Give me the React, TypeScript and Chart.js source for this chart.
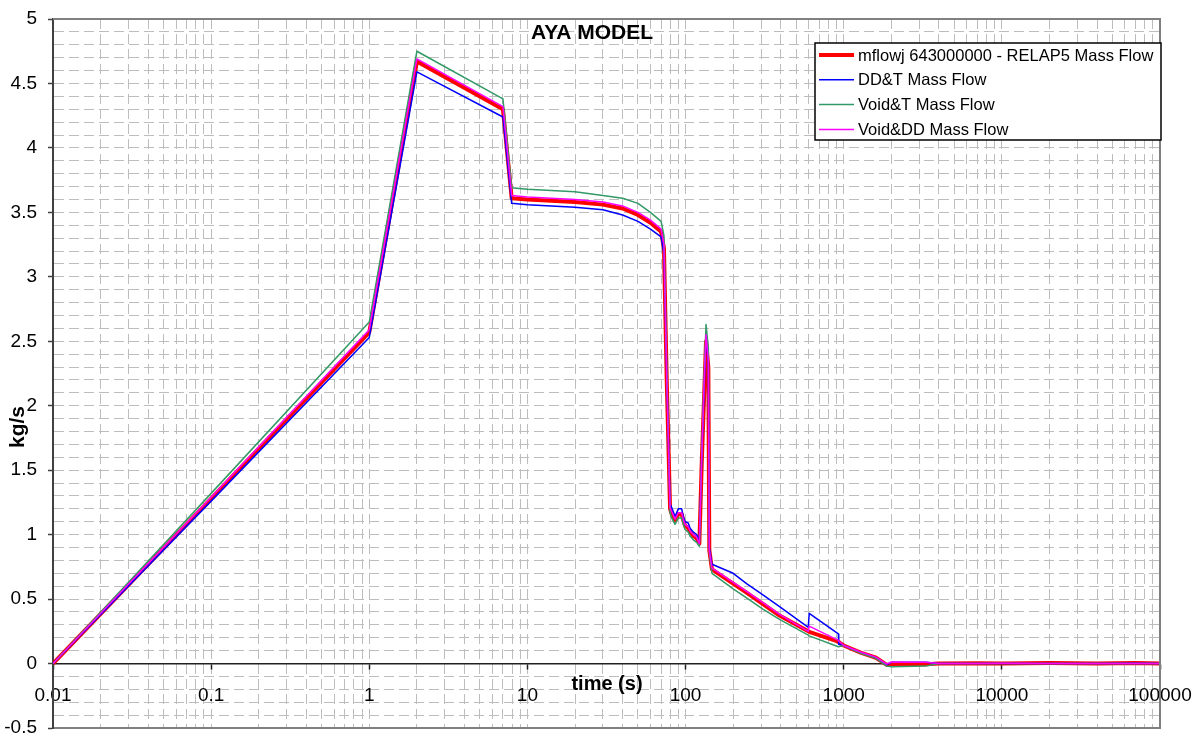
import React, { useEffect, useRef } from 'react';
import { Chart, registerables } from 'chart.js';

Chart.register(...registerables);

const FONT = '"Liberation Sans", Arial, Helvetica, sans-serif';

// ---- data ----
const times = [
  0.01, 0.1, 1, 2, 7, 7.95, 10, 20, 30, 40, 50, 60, 70, 73, 76, 79.8, 81.7, 85.8, 90, 94.5,
  96.7, 99.2, 104, 106.7, 111.9, 117.6, 122.2, 126.5, 130.8, 134.7, 139.3, 141.3, 146.9, 200, 243, 310,
  395, 597, 605, 925, 930, 1000, 1280, 1600, 1870, 2000, 3300, 4000, 7000, 10000, 20000, 40000,
  70000, 100000,
];
const relap5Flow = [
  0, 1.28, 2.57, 4.67, 4.3, 3.61, 3.6, 3.58, 3.56, 3.53, 3.48, 3.42, 3.35, 3.22, 2.2, 1.2, 1.16, 1.11, 1.16, 1.16,
  1.11, 1.07, 1.05, 1.02, 0.99, 0.97, 0.93, 1.55, 2.05, 2.5, 2.3, 0.88, 0.73, 0.62, 0.55, 0.46,
  0.37, 0.25, 0.245, 0.17, 0.165, 0.14, 0.085, 0.045, -0.01, -0.01, -0.005, 0, 0.003, 0, 0.004, 0,
  0.005, 0,
];
const ddtFlow = [
  0, 1.26, 2.53, 4.59, 4.24, 3.57, 3.56, 3.54, 3.52, 3.48, 3.43, 3.37, 3.31, 3.18, 2.25, 1.24, 1.21, 1.14, 1.2, 1.2,
  1.14, 1.1, 1.09, 1.05, 1.02, 1.0, 0.95, 1.6, 2.1, 2.52, 2.35, 0.9, 0.77, 0.7, 0.62, 0.53,
  0.44, 0.28, 0.39, 0.23, 0.15, 0.14, 0.085, 0.045, -0.01, 0.01, 0.01, 0, 0, 0, 0, 0,
  0.003, 0,
];
const voidTFlow = [
  0, 1.32, 2.65, 4.75, 4.38, 3.69, 3.68, 3.66, 3.63, 3.61, 3.57, 3.5, 3.43, 3.32, 2.3, 1.17, 1.13, 1.08, 1.13, 1.13,
  1.08, 1.04, 1.02, 0.99, 0.96, 0.94, 0.91, 1.62, 2.2, 2.63, 2.45, 0.86, 0.7, 0.58, 0.51, 0.42,
  0.34, 0.22, 0.215, 0.13, 0.13, 0.14, 0.08, 0.04, -0.02, -0.025, -0.02, 0, 0, 0, 0, 0,
  0, 0,
];
const voidDDFlow = [
  0, 1.29, 2.59, 4.69, 4.32, 3.63, 3.62, 3.6, 3.58, 3.55, 3.5, 3.44, 3.37, 3.25, 2.22, 1.21, 1.18, 1.12, 1.17, 1.17,
  1.12, 1.08, 1.06, 1.03, 1.0, 0.98, 0.93, 1.6, 2.15, 2.55, 2.35, 0.88, 0.74, 0.63, 0.56, 0.47,
  0.38, 0.25, 0.29, 0.18, 0.175, 0.14, 0.09, 0.05, -0.005, 0.012, 0.01, 0, 0, 0.002, 0, 0,
  0, 0,
];

const seriesLabels = [
  'mflowj 643000000 - RELAP5 Mass Flow',
  'DD&T Mass Flow',
  'Void&T Mass Flow',
  'Void&DD Mass Flow',
];
const seriesValues = [relap5Flow, ddtFlow, voidTFlow, voidDDFlow];

const xDecades = [0.01, 0.1, 1, 10, 100, 1000, 10000, 100000];
const xTickLabels = ['0.01', '0.1', '1', '10', '100', '1000', '10000', '100000'];
const xMinorMultipliers = [2, 3, 4, 5, 6, 7, 8, 9];

const yMin = -0.5;
const yMax = 5;
const yGridStep = 0.1;
const yLabelStep = 0.5;

const chartTitle = 'AYA MODEL';
const xTitle = 'time (s)';
const yTitle = 'kg/s';

// ---- styles ----
const seriesColors = ['#FF0000', '#0000FF', '#339966', '#FF00FF'];
const seriesWidths = [4, 1.5, 1.5, 1.5];
const seriesOrder = [3, 2, 1, 0];
const GRID = '#bdbdbd';

const xGridValues: number[] = [];
xDecades.forEach((d, i) => {
  xGridValues.push(d);
  if (i < xDecades.length - 1) xMinorMultipliers.forEach((m) => xGridValues.push(d * m));
});

const isXMajor = (v: number) => xDecades.some((d) => Math.abs(v - d) / d < 1e-6);
const isYMajor = (v: number) => Math.abs(v / yLabelStep - Math.round(v / yLabelStep)) < 1e-6;

const overlayPlugin = {
  id: 'overlay',
  afterDraw(chart: any) {
    const { ctx, chartArea: a, scales } = chart;
    ctx.save();
    // plot border (top, right, bottom)
    ctx.strokeStyle = '#808080';
    ctx.lineWidth = 2;
    ctx.beginPath();
    ctx.moveTo(a.left, a.top);
    ctx.lineTo(a.right, a.top);
    ctx.lineTo(a.right, a.bottom);
    ctx.lineTo(a.left + 1, a.bottom);
    ctx.stroke();

    // chart title
    ctx.fillStyle = '#000';
    ctx.textAlign = 'center';
    ctx.textBaseline = 'middle';
    ctx.font = `bold 21px ${FONT}`;
    ctx.fillText(chartTitle, 592, 33);

    // x title
    const y0 = scales.y.getPixelForValue(0);
    ctx.font = `bold 20px ${FONT}`;
    ctx.fillText(xTitle, 607, y0 + 21);

    // y title
    ctx.save();
    ctx.translate(18, 427);
    ctx.rotate(-Math.PI / 2);
    ctx.font = `bold 21px ${FONT}`;
    ctx.fillText(yTitle, 0, 0);
    ctx.restore();

    // legend
    const lx = 815;
    const ly = 43;
    const lw = 346;
    const lh = 97;
    ctx.fillStyle = '#fff';
    ctx.fillRect(lx, ly, lw, lh);
    ctx.strokeStyle = '#000';
    ctx.lineWidth = 1.5;
    ctx.strokeRect(lx, ly, lw, lh);
    ctx.font = `16.5px ${FONT}`;
    ctx.textAlign = 'left';
    chart.data.datasets.forEach((ds: any, i: number) => {
      const ry = 55 + i * 24.8;
      ctx.strokeStyle = ds.borderColor;
      ctx.lineWidth = ds.borderWidth;
      ctx.beginPath();
      ctx.moveTo(lx + 4, ry);
      ctx.lineTo(lx + 39, ry);
      ctx.stroke();
      ctx.fillStyle = '#000';
      ctx.fillText(ds.label, lx + 43, ry + 1);
    });
    ctx.restore();
  },
};

export default function App() {
  const ref = useRef<HTMLCanvasElement>(null);
  useEffect(() => {
    document.body.style.margin = '0';
    const datasets = seriesLabels.map((label, s) => ({
      label,
      data: times.map((t, i) => ({ x: t, y: seriesValues[s][i] })),
      borderColor: seriesColors[s],
      backgroundColor: seriesColors[s],
      borderWidth: seriesWidths[s],
      pointRadius: 0,
      tension: 0,
      fill: false,
      order: seriesOrder[s],
      borderJoinStyle: 'round' as const,
    }));
    const chart = new Chart(ref.current!, {
      type: 'line',
      data: { datasets },
      plugins: [overlayPlugin],
      options: {
        animation: false,
        responsive: false,
        events: [],
        layout: { padding: { left: 0, right: 38, top: 19, bottom: 8 } },
        plugins: { legend: { display: false }, tooltip: { enabled: false }, title: { display: false } },
        scales: {
          x: {
            type: 'logarithmic',
            position: { y: 0 } as any,
            min: 0.01,
            max: 100000,
            afterBuildTicks: (scale: any) => {
              scale.ticks = xGridValues.map((v) => ({ value: v, major: isXMajor(v) }));
            },
            afterFit: (scale: any) => {
              scale.paddingLeft = 0;
              scale.paddingRight = 0;
              scale.paddingTop = 0;
              scale.paddingBottom = 0;
            },
            ticks: {
              autoSkip: false,
              maxRotation: 0,
              minRotation: 0,
              padding: 16,
              color: '#000',
              font: { family: FONT, size: 19 },
              callback: (value: any) => {
                const idx = xDecades.findIndex((d) => Math.abs(Number(value) - d) / d < 1e-6);
                return idx >= 0 ? xTickLabels[idx] : '';
              },
            },
            grid: {
              color: GRID,
              lineWidth: 1,
              tickLength: 5,
              tickWidth: 1.5,
              tickColor: (ctx: any) => (ctx.tick && isXMajor(ctx.tick.value) ? '#202020' : 'rgba(0,0,0,0)'),
            },
            border: { display: true, color: '#202020', width: 1.5, dash: [10, 5] },
          },
          y: {
            type: 'linear',
            position: 'left',
            min: yMin,
            max: yMax,
            afterFit: (scale: any) => {
              scale.width = 53;
              scale.paddingTop = 0;
              scale.paddingBottom = 0;
              scale.paddingLeft = 0;
              scale.paddingRight = 0;
            },
            ticks: {
              stepSize: yGridStep,
              autoSkip: false,
              padding: 11,
              color: '#000',
              font: { family: FONT, size: 19 },
              callback: (value: any) => {
                const v = Number(value);
                return isYMajor(v) ? String(Math.round(v * 10) / 10) : '';
              },
            },
            grid: {
              color: GRID,
              lineWidth: 1,
              tickLength: 5,
              tickWidth: 1.5,
              tickColor: (ctx: any) => (ctx.tick && isYMajor(ctx.tick.value) ? '#404040' : 'rgba(0,0,0,0)'),
            },
            border: { display: true, color: '#404040', width: 2, dash: [10, 5] },
          },
        },
      },
    });
    return () => chart.destroy();
  }, []);
  return (
    <div style={{ position: 'absolute', left: 0, top: 0, width: 1198, height: 736, background: '#fff' }}>
      <canvas ref={ref} width={1198} height={736} style={{ display: 'block' }} />
    </div>
  );
}
